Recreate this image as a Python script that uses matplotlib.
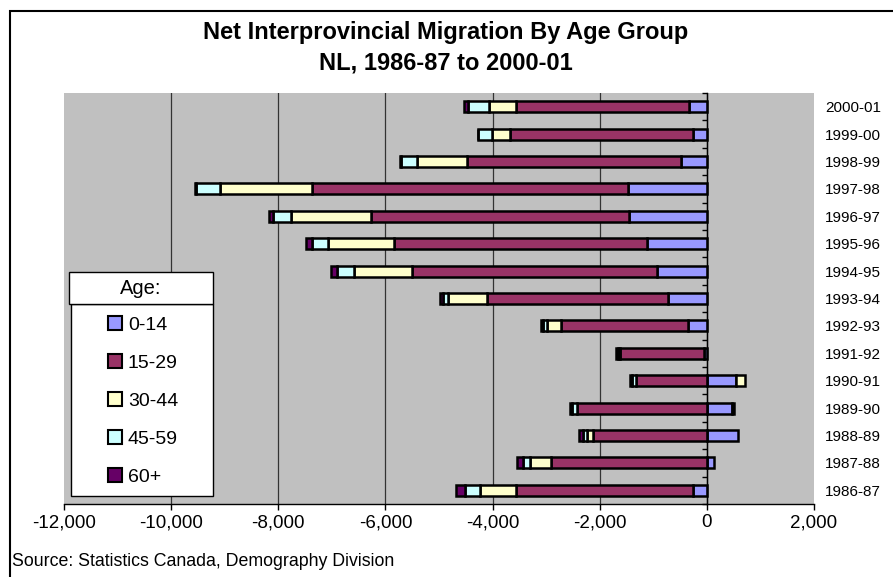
import numpy as np
import matplotlib
matplotlib.use('Agg')
import matplotlib.pyplot as plt
from matplotlib.patches import Patch, Rectangle
from matplotlib.ticker import FuncFormatter

plt.rcParams['font.family'] = ['Liberation Sans', 'DejaVu Sans']

# Daten (Nettowanderung, Personen)
years = ['1986-87', '1987-88', '1988-89', '1989-90', '1990-91', '1991-92', '1992-93',
         '1993-94', '1994-95', '1995-96', '1996-97', '1997-98', '1998-99', '1999-00', '2000-01']
age_0_14 = [-250, 140, 580, 460, 550, -60, -345, -720, -940, -1110, -1455, -1470, -490, -260, -330]
age_15_29 = [-3310, -2910, -2125, -2425, -1320, -1570, -2370, -3380, -4560, -4730, -4820, -5910, -3980, -3420, -3240]
age_30_44 = [-680, -390, -120, 50, 170, -20, -265, -735, -1090, -1230, -1490, -1700, -940, -340, -500]
age_45_59 = [-270, -130, -70, -90, -70, -15, -75, -90, -310, -310, -330, -450, -300, -250, -380]
age_60_plus = [-180, -120, -65, -40, -50, -25, -35, -50, -110, -110, -80, -30, -20, -10, -75]

groups = ['0-14', '15-29', '30-44', '45-59', '60+']
series = [age_0_14, age_15_29, age_30_44, age_45_59, age_60_plus]
colors = ['#9999FF', '#993366', '#FFFFCC', '#CCFFFF', '#660066']
xticks = [-12000, -10000, -8000, -6000, -4000, -2000, 0, 2000]

W, H = 893, 577
fig = plt.figure(figsize=(W / 100, H / 100), dpi=100)
ax = fig.add_axes([64 / W, 1 - 504 / H, (814 - 64) / W, (504 - 93) / H])
ax.set_facecolor('#C0C0C0')

y = np.arange(len(years))
pos_base = np.zeros(len(years))
neg_base = np.zeros(len(years))
for vals, col in zip(series, colors):
    v = np.array(vals, dtype=float)
    left = np.where(v >= 0, pos_base, neg_base)
    ax.barh(y, v, left=left, height=0.4, color=col, edgecolor='black', linewidth=1.8, zorder=3)
    pos_base += np.where(v >= 0, v, 0)
    neg_base += np.where(v < 0, v, 0)

ax.set_xlim(xticks[0], xticks[-1])
ax.set_ylim(-0.5, len(years) - 0.5)
ax.set_xticks(xticks)
ax.xaxis.set_major_formatter(FuncFormatter(lambda v, p: f'{v:,.0f}'))
ax.tick_params(axis='x', direction='out', length=4.5, width=1, pad=3, labelsize=13.5, colors='black')
ax.grid(axis='x', color='#333333', linewidth=0.9)
ax.set_axisbelow(True)
gl = ax.xaxis.get_gridlines()
gl[0].set_visible(False)
gl[-1].set_visible(False)

# Kategorie-Achse bei 0
ax.spines['left'].set_position(('data', 0))
ax.spines['left'].set_linewidth(1)
ax.spines['left'].set_zorder(4)
ax.spines['top'].set_visible(False)
ax.spines['right'].set_visible(False)
ax.spines['bottom'].set_linewidth(1)
ax.set_yticks(y)
ax.set_yticklabels([])
ax.tick_params(axis='y', which='major', length=0)
ax.set_yticks(np.arange(-0.5, len(years), 1), minor=True)
ax.tick_params(axis='y', which='minor', direction='out', length=3.5, width=1)

sec = ax.secondary_yaxis('right')
sec.set_yticks(y)
sec.set_yticklabels(years)
sec.tick_params(length=0, pad=8, labelsize=11)
sec.spines['right'].set_visible(False)

# Titel
fig.text(446 / W, 1 - 33 / H, 'Net Interprovincial Migration By Age Group', ha='center', va='center',
         fontsize=17, fontweight='bold')
fig.text(446 / W, 1 - 63 / H, 'NL, 1986-87 to 2000-01', ha='center', va='center',
         fontsize=17, fontweight='bold')
fig.text(12 / W, 1 - 561 / H, 'Source: Statistics Canada, Demography Division', ha='left', va='center',
         fontsize=12.8)

# Legende
fig.patches.append(Rectangle((71 / W, 1 - 496 / H), (213 - 71) / W, (496 - 304) / H,
                             transform=fig.transFigure, facecolor='white', edgecolor='black', linewidth=1))
fig.patches.append(Rectangle((69 / W, 1 - 304 / H), (213 - 69) / W, (304 - 272) / H,
                             transform=fig.transFigure, facecolor='white', edgecolor='black', linewidth=1))
fig.text(141 / W, 1 - 288 / H, 'Age:', ha='center', va='center', fontsize=14.5)
handles = [Patch(facecolor=c, edgecolor='black', linewidth=1.5) for c in colors]
fig.legend(handles, groups, loc='upper left', bbox_to_anchor=(108 / W, 1 - 316 / H), frameon=False,
           fontsize=14, handlelength=0.72, handleheight=0.72, handletextpad=0.3, labelspacing=1.04,
           borderpad=0, borderaxespad=0)

# Rahmen
fig.patches.append(Rectangle((9.5 / W, -0.01), 1, 1 - 11 / H + 0.01, transform=fig.transFigure,
                             facecolor='none', edgecolor='black', linewidth=1.5))

plt.savefig('out.png', dpi=100)
